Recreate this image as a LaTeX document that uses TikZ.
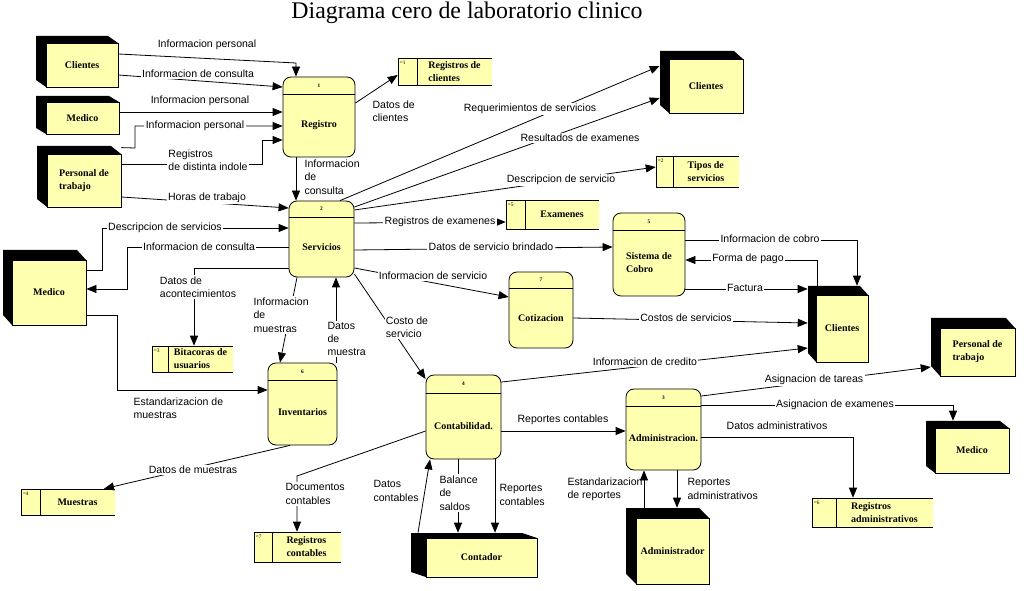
\documentclass[tikz,border=0pt]{standalone}
\usepackage{fontspec}
\setmainfont{Liberation Serif}
\newfontfamily\labfont{Liberation Sans}
\usetikzlibrary{arrows.meta}
\definecolor{ylw}{RGB}{255,255,176}
\tikzset{
  flow/.style={draw, line width=0.6pt, -{Triangle[length=7.5pt,width=6pt]}},
  lbl/.style={font=\labfont\fontsize{7.9}{10}\selectfont, inner sep=1pt, align=left},
  wlbl/.style={lbl, fill=white},
  ename/.style={font=\bfseries\fontsize{7.5}{9.75}\selectfont, align=left},
  pnum/.style={font=\bfseries\fontsize{4}{4}\selectfont, inner sep=0pt},
  sid/.style={font=\fontsize{4}{4}\selectfont, inner sep=0pt},
}
% external entity: name, x1,y1,x2,y2, dx,dy, text
\newcommand{\mkent}[8]{%
  \fill[black] ({#2-#6},{#3-#7}) -- ({#4-#6},{#3-#7}) -- (#4,#3) -- (#2,#3) -- (#2,#5) -- ({#2-#6},{#5-#7}) -- cycle;
  \node[inner sep=0pt, minimum width={(#4-#2)*0.75pt}, minimum height={(#5-#3)*0.75pt}] (#1b) at ({(#2+#4)/2-#6},{(#3+#5)/2-#7}) {};
  \node[draw, fill=ylw, line width=0.6pt, inner sep=0pt, minimum width={(#4-#2)*0.75pt}, minimum height={(#5-#3)*0.75pt}, ename] (#1) at ({(#2+#4)/2},{(#3+#5)/2}) {#8};
}
% process: name, x1,y1,x2,y2, header y, number, text
\newcommand{\mkproc}[8]{%
  \node[draw, fill=ylw, rounded corners=6pt, line width=0.6pt, inner sep=0pt, minimum width={(#4-#2)*0.75pt}, minimum height={(#5-#3)*0.75pt}] (#1) at ({(#2+#4)/2},{(#3+#5)/2}) {};
  \draw[line width=0.6pt] (#2,#6) -- (#4,#6);
  \node[pnum] (#1n) at ({(#2+#4)/2},{(#3+#6)/2}) {#7};
  \node[ename] (#1t) at ({(#2+#4)/2},{(#6+#5)/2}) {#8};
}
% data store: name, x1,y1,x2,y2, divider x, id, text
\newcommand{\mkstore}[8]{%
  \node[fill=ylw, inner sep=0pt, minimum width={(#4-#2)*0.75pt}, minimum height={(#5-#3)*0.75pt}] (#1) at ({(#2+#4)/2},{(#3+#5)/2}) {};
  \draw[line width=0.6pt] (#4,#3) -- (#2,#3) -- (#2,#5) -- (#4,#5);
  \draw[line width=0.6pt] (#6,#3) -- (#6,#5);
  \node[sid, anchor=north west] (#1i) at ({#2+1.5},{#3+2.5}) {#7};
  \node[ename] (#1t) at ({(#6+#4)/2},{(#3+#5)/2}) {#8};
}
\begin{document}
\begin{tikzpicture}[x=0.75pt,y=-0.75pt]
\useasboundingbox (0,0) rectangle (1028,591);
\fill[white] (0,0) rectangle (1028,591);

\node[font=\fontsize{17.9}{20}\selectfont] (title) at (467,13) {Diagrama cero de laboratorio clinico};

% entities
\mkent{cliA}{46}{43}{118}{87}{10}{7}{Clientes}
\mkent{medA}{46}{102}{119}{134}{10}{6}{Medico}
\mkent{persA}{47}{154}{121}{207}{10}{8}{Personal de\\trabajo}
\mkent{cliB}{669}{59}{743}{113}{9}{8}{Clientes}
\mkent{medB}{12}{260}{86}{325}{9}{10}{Medico}
\mkent{cliC}{816}{295}{868}{362}{8}{9}{Clientes}
\mkent{persB}{940}{328}{1015}{376}{9}{10}{Personal de\\trabajo}
\mkent{medC}{935}{428}{1009}{473}{9}{7}{Medico}
\mkent{ctd}{426}{538}{537}{577}{15}{5}{Contador}
\mkent{admr}{636}{518}{709}{584}{10}{10}{Administrador}

% processes
\mkproc{reg}{283}{77}{355}{157}{94}{1}{Registro}
\mkproc{serv}{289}{201}{354}{277}{217}{2}{Servicios}
\mkproc{inv}{268}{363}{337}{445}{380}{6}{Inventarios}
\mkproc{cont}{426}{375}{501}{459}{393}{4}{Contabilidad.}
\mkproc{adm}{626}{389}{701}{470}{406}{3}{Administracion.}
\mkproc{cobro}{613}{213}{685}{296}{230}{5}{Sistema de\\Cobro}
\mkproc{cot}{509}{272}{573}{348}{288}{7}{Cotizacion}

% data stores
\mkstore{dsa}{398}{58}{492}{85}{417}{=1}{Registros de\\clientes}
\mkstore{dsb}{656}{156}{739}{187}{673}{=2}{Tipos de\\servicios}
\mkstore{dse}{506}{200}{599}{229}{525}{=5}{Examenes}
\mkstore{dsc}{152}{346}{233}{372}{168}{=3}{Bitacoras de\\usuarios}
\mkstore{dsd}{21}{489}{115}{515}{40}{=4}{Muestras}
\mkstore{dsg}{254}{532}{341}{562}{272}{=7}{Registros\\contables}
\mkstore{dsf}{812}{498}{933}{527}{836}{=6}{Registros\\administrativos}

% connectors
\draw[flow] (cliA.east |- 0,54) -- (296,63) -- (reg.north -| 296,0);
\draw[flow] (cliA.east |- 0,75) -- (reg.west |- 0,87);
\draw[flow] (medA.east |- 0,112) -- (reg.west |- 0,112);
\draw[flow] ([yshift=4.5pt]persA.north east) -- (135,148) -- (135,126) -- (reg.west |- 0,126);
\draw[flow] (persA.east |- 0,164) -- (262,164) -- (262,140) -- (reg.west |- 0,140);
\draw[flow] (persA.east |- 0,197) -- (serv.west |- 0,208);
\draw[flow] (reg.south -| 296,0) -- (serv.north -| 296,0);
\draw[flow] (reg.east |- 0,103) -- (dsa.west |- 0,75);
\draw[flow] (serv.north -| 340,0) -- (cliBb.west |- 0,66);
\draw[flow] (serv.east |- 0,207) -- (cliBb.west |- 0,98);
\draw[flow] (serv.east |- 0,210) -- (dsb.west |- 0,167);
\draw[flow] (serv.east |- 0,223) -- (dse.west |- 0,222);
\draw[flow] (serv.east |- 0,250) -- (cobro.west |- 0,247);
\draw[flow] (serv.east |- 0,268) -- (cot.west |- 0,297);
\draw[flow] (serv.east |- 0,274) -- (cont.west |- 0,379);
\draw[flow] (medB.east |- 0,270) -- (102,270) -- (102,228) -- (serv.west |- 0,228);
\draw[flow] (serv.west |- 0,247) -- (127,247) -- (127,289) -- (medB.east |- 0,289);
\draw[flow] (serv.west |- 0,268) -- (194,268) -- (dsc.north -| 194,0);
\draw[flow] (serv.south -| 297,0) -- (inv.north -| 280,0);
\draw[flow] (inv.north -| 336,0) -- (serv.south -| 336,0);
\draw[flow] (medB.east |- 0,315) -- (117,315) -- (117,390) -- (inv.west |- 0,390);
\draw[flow] (inv.south -| 290,0) -- (dsd.north -| 104,0);
\draw[flow] (cont.west |- 0,431) -- (297,476) -- (dsg.north -| 297,0);
\draw[flow] (ctdb.north -| 418,0) -- (cont.south -| 430,0);
\draw[flow] (cont.south -| 458,0) -- (ctdb.north -| 458,0);
\draw[flow] (cont.south -| 495,0) -- (ctdb.north -| 495,0);
\draw[flow] (cont.east |- 0,431) -- (adm.west |- 0,431);
\draw[flow] (cont.east |- 0,382) -- (cliCb.west |- 0,348);
\draw[flow] (cot.east |- 0,318) -- (cliCb.west |- 0,323);
\draw[flow] (cobro.east |- 0,240) -- (857,240) -- (cliCb.north -| 857,0);
\draw[flow] (cliCb.north -| 817,0) -- (817,260) -- (cobro.east |- 0,260);
\draw[flow] (cobro.east |- 0,289) -- (cliCb.west |- 0,289);
\draw[flow] (adm.east |- 0,396) -- (persBb.west |- 0,367);
\draw[flow] (adm.east |- 0,405) -- (953,405) -- (medCb.north -| 953,0);
\draw[flow] (adm.east |- 0,437) -- (853,437) -- (dsf.north -| 853,0);
\draw[flow] (admrb.north -| 644,0) -- (adm.south -| 644,0);
\draw[flow] (adm.south -| 677,0) -- (admrb.north -| 677,0);

% labels
\node[lbl] (l1) at (207,45) {Informacion personal};
\node[wlbl] (l2) at (198,74) {Informacion de consulta};
\node[lbl] (l3) at (200,101) {Informacion personal};
\node[wlbl] (l4) at (195,126) {Informacion personal};
\node[wlbl] (l5) at (208,160) {Registros\\de distinta indole};
\node[wlbl] (l6) at (207,198) {Horas de trabajo};
\node[lbl, anchor=west] (l7) at (303,177) {Informacion\\de\\consulta};
\node[lbl, anchor=west] (l8) at (371,111) {Datos de\\clientes};
\node[wlbl] (l9) at (530,109) {Requerimientos de servicios};
\node[wlbl] (l10) at (580,138) {Resultados de examenes};
\node[wlbl] (l11) at (561,180) {Descripcion de servicio};
\node[wlbl] (l12) at (440,222) {Registros de examenes};
\node[wlbl] (l13) at (491,247) {Datos de servicio brindado};
\node[wlbl] (l14) at (433,276) {Informacion de servicio};
\node[wlbl] (l15) at (407,327) {Costo de\\servicio};
\node[wlbl] (l16) at (165,228) {Descripcion de servicios};
\node[wlbl] (l17) at (199,247) {Informacion de consulta};
\node[wlbl] (l18) at (198,287) {Datos de\\acontecimientos};
\node[wlbl, anchor=west] (l19) at (252,315) {Informacion\\de\\muestras};
\node[wlbl, anchor=west] (l20) at (326,339) {Datos\\de\\muestra};
\node[lbl, anchor=north west] (l21) at (132,396) {Estandarizacion de\\muestras};
\node[wlbl] (l22) at (193,470) {Datos de muestras};
\node[wlbl, anchor=west] (l23) at (284,494) {Documentos\\contables};
\node[lbl, anchor=west] (l24) at (372,491) {Datos\\contables};
\node[wlbl, anchor=west] (l25) at (438,493) {Balance\\de\\saldos};
\node[lbl, anchor=west] (l26) at (498,495) {Reportes\\contables};
\node[lbl] (l27) at (563,420) {Reportes contables};
\node[wlbl] (l28) at (645,362) {Informacion de credito};
\node[wlbl] (l29) at (686,318) {Costos de servicios};
\node[wlbl] (l30) at (770,239) {Informacion de cobro};
\node[wlbl] (l31) at (748,259) {Forma de pago};
\node[wlbl] (l32) at (745,288) {Factura};
\node[wlbl] (l33) at (814,380) {Asignacion de tareas};
\node[wlbl] (l34) at (835,405) {Asignacion de examenes};
\node[lbl] (l35) at (777,426) {Datos administrativos};
\node[lbl, anchor=west] (l36) at (566,489) {Estandarizacion\\de reportes};
\node[lbl, anchor=west] (l37) at (686,489) {Reportes\\administrativos};
\end{tikzpicture}
\end{document}
